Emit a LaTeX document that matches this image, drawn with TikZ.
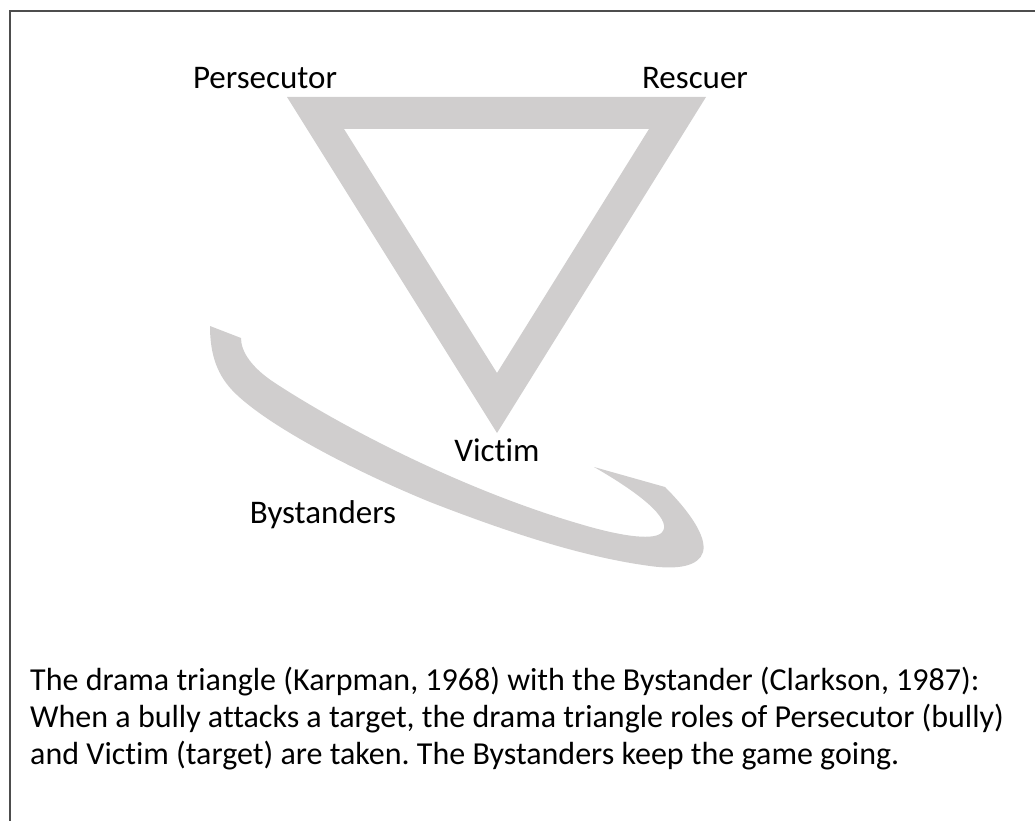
\documentclass[tikz,border=0pt]{standalone}
\usepackage{fontspec}
\setmainfont{Carlito}[Ligatures=NoCommon]
\frenchspacing
\definecolor{bandgray}{RGB}{208,206,206}
\definecolor{framegray}{RGB}{77,77,77}
\tikzstyle{dt-band}=[fill=bandgray,draw=none]
\tikzstyle{dt-label}=[inner sep=0pt,anchor=base,font=\fontsize{33}{40}\selectfont]
\tikzstyle{dt-caption}=[inner sep=0pt,anchor=base west,align=left,font=\fontsize{32}{37}\selectfont]

\begin{document}
\begin{tikzpicture}[x=1pt,y=-1pt]
    \useasboundingbox (0,0) rectangle (1035,821);
    \draw[framegray,line width=2pt] (9.5,830) -- (9.5,11) -- (1045,11);
    % triangle
    \fill[dt-band,even odd rule] (287,97) -- (706,97) -- (497,433) -- cycle
                                 (344,129) -- (649,129) -- (497,373) -- cycle;
    % bystander curve
    \fill[dt-band] (210,326) -- (241,338)
        .. controls (241,352) and (252,368) .. (275,383)
        .. controls (350,432) and (470,492) .. (580,524)
        .. controls (620,536) and (650,540) .. (660,534)
        .. controls (672,526) and (660,505) .. (594,467)
        -- (665,487)
        .. controls (690,512) and (707,537) .. (703,552)
        .. controls (699,566) and (678,570) .. (650,566)
        .. controls (590,558) and (520,537) .. (430,502)
        .. controls (340,465) and (260,420) .. (232,390)
        .. controls (215,372) and (210,350) .. (210,326) -- cycle;
    \node[dt-label] (pers) at (265,89)  {Persecutor};
    \node[dt-label] (resc) at (695,89)  {Rescuer};
    \node[dt-label] (vict) at (497,461) {Victim};
    \node[dt-label] (byst) at (323,523) {Bystanders};
    \node[dt-caption] (capt) at (30,764) {The drama triangle (Karpman, 1968) with the Bystander (Clarkson, 1987):\\
        When a bully attacks a target, the drama triangle roles of Persecutor (bully)\\
        and Victim (target) are taken. The Bystanders keep the game going.};
\end{tikzpicture}
\end{document}
